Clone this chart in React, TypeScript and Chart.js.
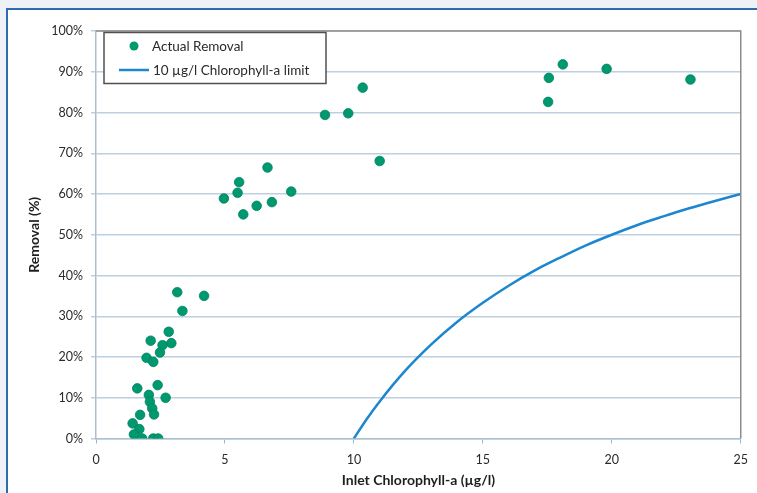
import React, { useEffect, useRef } from "react";
import { Chart, registerables } from "chart.js";

Chart.register(...registerables);

// Measured "Actual Removal" points
const actualX = [
  3.15, 4.19, 3.35, 2.82, 2.12, 2.92, 2.58, 2.48, 1.96, 2.22, 2.39, 1.6, 2.05, 2.7, 2.09, 2.18, 2.25, 1.71, 1.42,
  1.68, 1.47, 1.79, 2.22, 2.41,
  6.65, 11.0, 5.55, 5.49, 4.96, 7.57, 6.82, 6.23, 5.71,
  10.34, 8.88, 9.78,
  18.1, 19.8, 17.56, 23.05, 17.53,
];
const actualY = [
  35.9, 35.0, 31.3, 26.2, 24.0, 23.4, 22.9, 21.1, 19.8, 18.8, 13.1, 12.3, 10.7, 10.0, 9.0, 7.4, 5.9, 5.8, 3.7,
  2.3, 1.0, 0.0, 0.0, 0.0,
  66.5, 68.1, 62.9, 60.3, 58.9, 60.6, 58.0, 57.1, 55.0,
  86.1, 79.4, 79.8,
  91.8, 90.7, 88.5, 88.1, 82.6,
];

// "10 µg/l Chlorophyll-a limit" curve
const limitX = [10, 10.5, 11, 12, 13, 14, 15, 16, 17, 18, 19, 20, 21, 22, 23, 24, 25];
const limitY = [0, 4.8, 9.1, 16.7, 23.1, 28.6, 33.3, 37.5, 41.2, 44.4, 47.4, 50.0, 52.4, 54.5, 56.5, 58.3, 60.0];

const xTicks = [0, 5, 10, 15, 20, 25];
const yTicks = [0, 10, 20, 30, 40, 50, 60, 70, 80, 90, 100];

const seriesLabels = ["Actual Removal", "10 µg/l Chlorophyll-a limit"];
const xTitle = "Inlet Chlorophyll-a (µg/l)";
const yTitle = "Removal (%)";

const DOT = "#00986e";
const LINE = "#1c86cf";
const GRID = "#bdd0e0";
const FONT = "Lato, 'Open Sans', sans-serif";
const TEXT = "#2a2a2a";

const legendPlugin = {
  id: "boxLegend",
  afterDraw(chart: any) {
    const ctx = chart.ctx;
    const area = chart.chartArea;
    // plot frame top/right
    ctx.save();
    ctx.strokeStyle = "#8c8c8c";
    ctx.lineWidth = 1.5;
    ctx.beginPath();
    ctx.moveTo(area.left, area.top);
    ctx.lineTo(area.right, area.top);
    ctx.lineTo(area.right, area.bottom);
    ctx.stroke();

    const bx = 104, by = 32.5, bw = 222, bh = 51;
    ctx.fillStyle = "#ffffff";
    ctx.fillRect(bx, by, bw, bh);
    ctx.strokeStyle = "#505050";
    ctx.lineWidth = 1.5;
    ctx.strokeRect(bx, by, bw, bh);

    ctx.font = "13.5px " + FONT;
    ctx.textBaseline = "middle";
    // dot entry
    ctx.beginPath();
    ctx.arc(134, 46, 4.5, 0, Math.PI * 2);
    ctx.fillStyle = DOT;
    ctx.fill();
    ctx.fillStyle = TEXT;
    ctx.fillText(seriesLabels[0], 152, 46.5);
    // line entry
    ctx.strokeStyle = LINE;
    ctx.lineWidth = 2.5;
    ctx.beginPath();
    ctx.moveTo(119, 70);
    ctx.lineTo(149, 70);
    ctx.stroke();
    ctx.fillText(seriesLabels[1], 153, 70.5);
    ctx.restore();
  },
};

export default function App() {
  const ref = useRef<HTMLCanvasElement | null>(null);

  useEffect(() => {
    if (!ref.current) return;
    const points = actualX.map((x, i) => ({ x, y: actualY[i] }));
    const limit = limitX.map((x, i) => ({ x, y: limitY[i] }));
    const chart = new Chart(ref.current, {
      type: "scatter",
      data: {
        datasets: [
          {
            label: seriesLabels[1],
            type: "line",
            data: limit,
            showLine: true,
            borderColor: LINE,
            borderWidth: 2.5,
            pointRadius: 0,
            cubicInterpolationMode: "monotone",
            fill: false,
          } as any,
          {
            label: seriesLabels[0],
            data: points,
            pointRadius: 4.8,
            pointHoverRadius: 4.8,
            backgroundColor: DOT,
            borderColor: "#00845e",
            borderWidth: 0.8,
          },
        ],
      },
      plugins: [legendPlugin],
      options: {
        animation: false,
        responsive: false,
        devicePixelRatio: 1,
        layout: { padding: { top: 31, right: 16, left: 0, bottom: 0 } },
        plugins: { legend: { display: false }, tooltip: { enabled: false } },
        scales: {
          x: {
            type: "linear",
            min: 0,
            max: 25,
            afterBuildTicks: (s: any) => {
              s.ticks = xTicks.map((v) => ({ value: v }));
            },
            afterFit: (s: any) => {
              s.height = 54.5;
            },
            ticks: {
              color: TEXT,
              font: { family: FONT, size: 12.5 },
              padding: 9,
              maxRotation: 0,
            },
            grid: { drawOnChartArea: false, tickLength: 5, color: "#9fb4c8" },
            border: { color: "#a9bfd2", width: 1.5 },
            title: {
              display: true,
              text: xTitle,
              color: "#1e1e1e",
              font: { family: FONT, size: 14, weight: "bold" },
              padding: { top: 0, bottom: 4 },
            },
          },
          y: {
            type: "linear",
            min: 0,
            max: 100,
            afterBuildTicks: (s: any) => {
              s.ticks = yTicks.map((v) => ({ value: v }));
            },
            afterFit: (s: any) => {
              s.width = 96;
            },
            ticks: {
              color: TEXT,
              font: { family: FONT, size: 12.5 },
              padding: 8,
              callback: (v: any) => v + "%",
            },
            grid: { color: GRID, lineWidth: 1.5, tickLength: 5 },
            border: { color: "#a9bfd2", width: 1.5 },
            title: {
              display: true,
              text: yTitle,
              color: "#1e1e1e",
              font: { family: FONT, size: 14, weight: "bold" },
              padding: { top: 26.5, bottom: 0 },
            },
          },
        },
      },
    });
    return () => chart.destroy();
  }, []);

  return (
    <div
      style={{
        position: "fixed",
        left: 0,
        top: 0,
        width: 757,
        height: 493,
        background: "#eef2f7",
        overflow: "hidden",
      }}
    >
      <div
        style={{
          position: "absolute",
          left: 6,
          top: 8,
          width: 780,
          height: 520,
          background: "#ffffff",
          borderTop: "2px solid #2c6cb0",
          borderLeft: "2px solid #2c6cb0",
        }}
      />
      <canvas
        ref={ref}
        width={757}
        height={493}
        style={{ position: "absolute", left: 0, top: 0, width: 757, height: 493 }}
      />
    </div>
  );
}
